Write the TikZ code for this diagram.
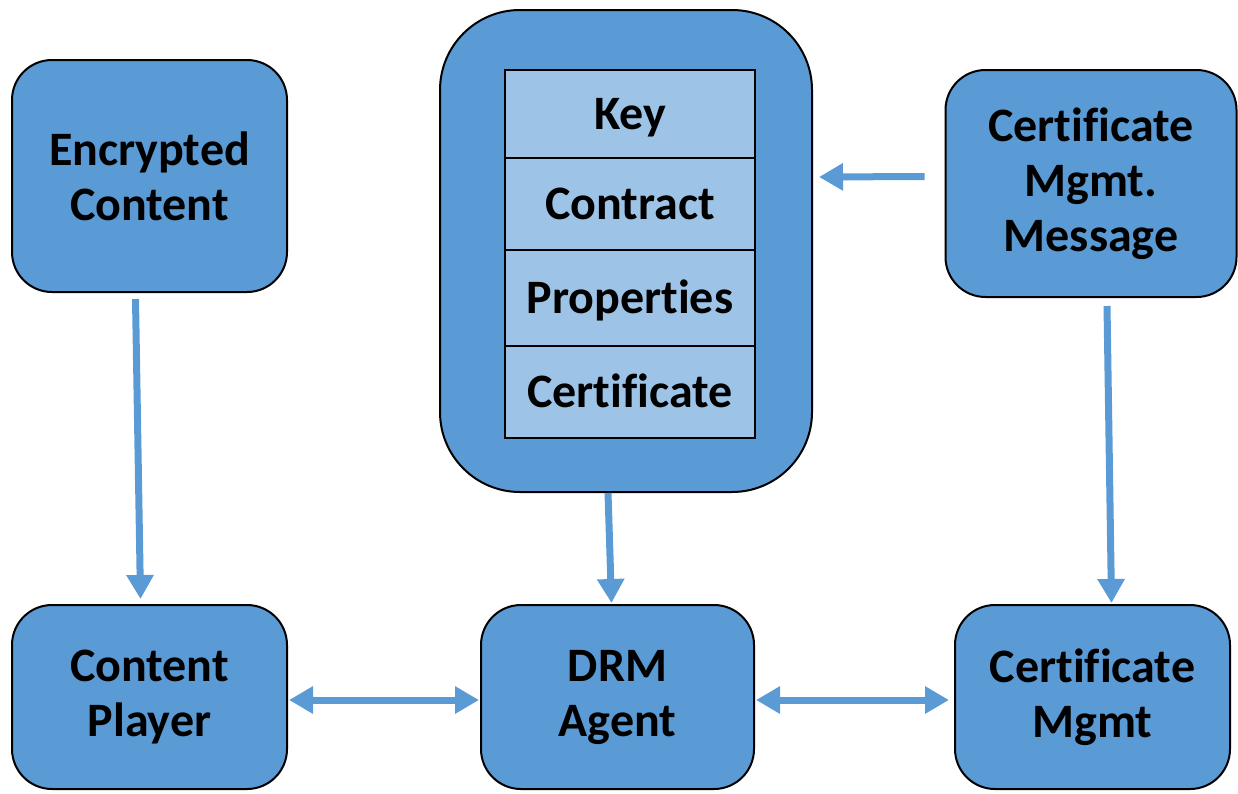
\documentclass[tikz,border=0pt]{standalone}
\usepackage{fontspec}
\setmainfont{Carlito}[Ligatures=NoCommon]
\usetikzlibrary{arrows.meta,positioning}
\definecolor{boxblue}{HTML}{5B9BD5}
\definecolor{lightblue}{HTML}{9DC3E6}
\tikzset{
  box/.style={draw=black, line width=2pt, fill=boxblue, rounded corners=40pt, align=center,
    font=\fontsize{48}{55}\selectfont\bfseries, inner sep=0pt},
  row/.style={draw=black, line width=1.6pt, fill=lightblue, minimum width=250pt, align=center,
    font=\fontsize{48}{55}\selectfont\bfseries, inner sep=0pt, text height=30pt, text depth=0pt},
  conn/.style={draw=boxblue, line width=7pt, -{Triangle[length=24pt,width=26pt]}},
  conn2/.style={draw=boxblue, line width=7pt, {Triangle[length=24pt,width=26pt]}-{Triangle[length=24pt,width=26pt]}}
}
\begin{document}
\begin{tikzpicture}[x=1pt,y=-1pt]
\useasboundingbox (0,0) rectangle (1238,793);
% boxes
\node[box, minimum width=275pt, minimum height=232pt] (enc) at (149.5,176) {Encrypted\\Content};
\node[box, minimum width=275pt, minimum height=184pt] (player) at (149.5,697) {Content\\Player};
\node[box, minimum width=273pt, minimum height=184pt] (drm) at (617.5,697) {DRM\\Agent};
\node[box, minimum width=275pt, minimum height=184pt] (cmgmt) at (1092.5,697) {Certificate\\Mgmt};
\node[box, minimum width=291pt, minimum height=227pt] (cmsg) at (1091,183.5) {Certificate\\Mgmt.\\Message};
\node[box, rounded corners=80pt, minimum width=372pt, minimum height=482pt] (cont) at (626,251) {};
% rows
\node[row, minimum height=88pt] (key) at (630,114) {Key};
\node[row, minimum height=92pt] (contract) at (630,204) {Contract};
\node[row, minimum height=96pt] (props) at (630,298) {Properties};
\node[row, minimum height=92pt] (cert) at (630,392) {Certificate};
% connectors
\draw[conn] ([xshift=-14pt,yshift=-6pt]enc.south) -- ([xshift=-9pt,yshift=5pt]player.north);
\draw[conn] ([xshift=-18pt]cont.south) -- ([xshift=-6pt,yshift=1pt]drm.north);
\draw[conn] ([xshift=16pt,yshift=-8pt]cmsg.south) -- ([xshift=19pt,yshift=1pt]cmgmt.north);
\draw[conn] ([xshift=-20pt,yshift=7pt]cmsg.west) -- ([xshift=6pt,yshift=74pt]cont.east);
\draw[conn2] ([xshift=1pt,yshift=-3pt]player.east) -- ([xshift=-1pt,yshift=-3pt]drm.west);
\draw[conn2] ([xshift=1pt,yshift=-3pt]drm.east) -- ([xshift=-5pt,yshift=-3pt]cmgmt.west);
\end{tikzpicture}
\end{document}
